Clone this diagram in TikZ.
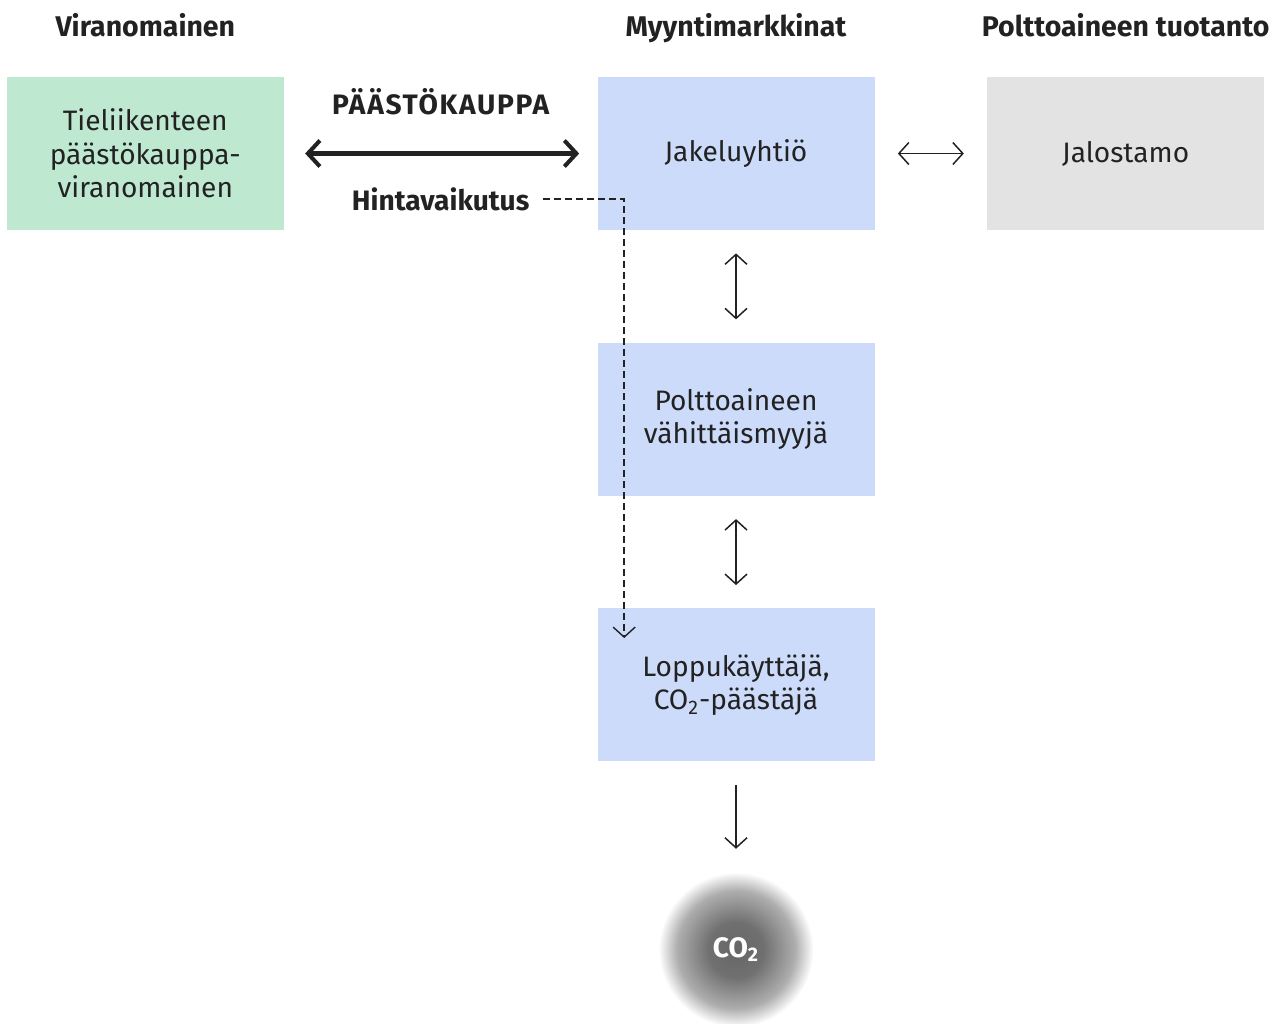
\documentclass[tikz,border=0pt]{standalone}
\usepackage{fontspec}
\setmainfont{Fira Sans}
\usepackage{tikz}
\usetikzlibrary{positioning,arrows.meta}
\definecolor{authority}{HTML}{BEE9D0}
\definecolor{market}{HTML}{CDDBFA}
\definecolor{refinery}{HTML}{E3E3E3}
\definecolor{ink}{HTML}{222222}
\pgfdeclareradialshading{co2glow}{\pgfpoint{0bp}{0bp}}{color(0bp)=(black!60); color(9bp)=(black!56); color(19bp)=(black!32); color(25bp)=(white); color(50bp)=(white)}

\begin{document}
\begin{tikzpicture}[
  node distance=2.24cm,
  box/.style={rectangle, text=ink, align=center, minimum width=5.54cm, minimum height=3.06cm, font=\fontsize{16}{19}\selectfont},
  head/.style={text=ink, inner sep=0pt, text depth=0pt, font=\fontsize{16.2}{19}\selectfont\bfseries},
  lbl/.style={text=ink, inner sep=0pt, font=\fontsize{16}{19}\selectfont\bfseries},
  arr/.style={draw=ink, line width=0.85pt, {Straight Barb[length=0.2cm,width=0.44cm]}-{Straight Barb[length=0.2cm,width=0.44cm]}, shorten <=0.46cm, shorten >=0.46cm},
  bigarr/.style={draw=ink, line width=2.3pt, {Straight Barb[length=0.24cm,width=0.52cm]}-{Straight Barb[length=0.24cm,width=0.52cm]}, shorten <=0.42cm, shorten >=0.36cm},
  ball/.style={circle, minimum size=3.1cm, shade, shading=co2glow, text=white, font=\fontsize{16}{19}\selectfont\bfseries}
]
\useasboundingbox (0,0) rectangle (25.6,-20.46);

% Markets column
\node[box, fill=market] (jakelu) at (14.72,-3.07) {Jakeluyhtiö};
\node[box, fill=market, below=of jakelu] (vahittais) {Polttoaineen\\vähittäismyyjä};
\node[box, fill=market, below=of vahittais] (loppu) {Loppukäyttäjä,\\CO\textsubscript{2}-päästäjä};
\node[ball, below=2.2cm of loppu] (co2) {CO\textsubscript{2}};

% Authority and production
\node[box, fill=authority, left=6.26cm of jakelu] (viran) {Tieliikenteen\\päästökauppa-\\viranomainen};
\node[box, fill=refinery, right=of jakelu] (jalo) {Jalostamo};

% Headers
\node[head, above=0.8cm of viran] (hviran) {Viranomainen};
\node[head, above=0.8cm of jakelu] (hmarket) {Myyntimarkkinat};
\node[head, above=0.8cm of jalo] (hprod) {Polttoaineen tuotanto};

% Connectors
\draw[bigarr] (viran) -- node[lbl, above=0.74cm, font=\fontsize{16}{19}\selectfont\bfseries\addfontfeatures{LetterSpace=6}] (trade) {PÄÄSTÖKAUPPA}
  node[lbl, below=0.64cm] (hinta) {Hintavaikutus} (jakelu);
\draw[arr] (jakelu) -- (jalo);
\draw[arr] (jakelu) -- (vahittais);
\draw[arr] (vahittais) -- (loppu);
\draw[arr, {Straight Barb[length=0.2cm,width=0.44cm]}-] (co2) -- (loppu);

\coordinate[below right=0.6cm and 0.54cm of loppu.north west] (drop);
\draw[draw=ink, line width=0.8pt, dash pattern=on 0.14cm off 0.08cm, -{Straight Barb[length=0.2cm,width=0.44cm]}, shorten <=0.24cm] (hinta.east) -| (drop);

\end{tikzpicture}
\end{document}
